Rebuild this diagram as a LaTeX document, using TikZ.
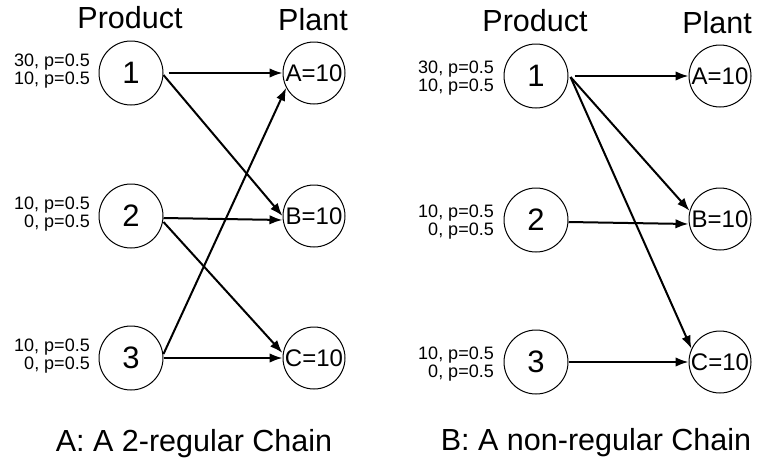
\documentclass[tikz,border=0pt]{standalone}
\usepackage{fontspec}
\setmainfont{Liberation Sans}
\usetikzlibrary{arrows.meta}

\tikzset{
  stage/.style={circle, draw=black, line width=1pt, minimum size=64pt, inner sep=0pt,
                font=\fontsize{31}{31}\selectfont},
  plant/.style={circle, draw=black, line width=1pt, minimum size=62pt, inner sep=0pt,
                font=\fontsize{24}{24}\selectfont},
  demand/.style={anchor=east, align=right, inner sep=0pt,
                 font=\fontsize{18}{15}\selectfont},
  heading/.style={anchor=base, inner sep=0pt, font=\fontsize{30.5}{30.5}\selectfont},
  flow/.style={line width=2pt, -{Latex[length=13pt,width=9.5pt]}}
}

\begin{document}
\begin{tikzpicture}[x=1pt, y=-1pt]
  \useasboundingbox (0,0) rectangle (762,466);

  % ---------- left chain ----------
  \node[heading] (lprod) at (130,28) {Product};
  \node[heading] (lplant) at (313,30) {Plant};

  \node[stage] (L1) at (131,73)  {1};
  \node[stage] (L2) at (131,216) {2};
  \node[stage] (L3) at (131,358) {3};

  \node[plant] (LA) at (314,73)  {A=10};
  \node[plant] (LB) at (314,216) {B=10};
  \node[plant] (LC) at (314,358) {C=10};

  \node[demand] (l1d) at (90,71)  {30, p=0.5\\10, p=0.5};
  \node[demand] (l2d) at (90,214) {10, p=0.5\\0, p=0.5};
  \node[demand] (l3d) at (90,356) {10, p=0.5\\0, p=0.5};

  \draw[flow] ([xshift=5pt]L1.east) -- (LA.west);
  \draw[flow] ([yshift=-2pt]L1.east) -- (LB.west);
  \draw[flow] ([yshift=-2pt]L2.east) -- ([yshift=-4pt]LB.west);
  \draw[flow] ([yshift=-6pt]L2.east) -- ([yshift=5pt]LC.west);
  \draw[flow] ([yshift=4pt]L3.east) -- (LA.208);
  \draw[flow] (L3.east) -- (LC.west);

  \node[heading] (lcap) at (194,451) {A: A 2-regular Chain};

  % ---------- right chain ----------
  \node[heading] (rprod) at (535,31) {Product};
  \node[heading] (rplant) at (717,33) {Plant};

  \node[stage] (R1) at (536,76)  {1};
  \node[stage] (R2) at (536,220) {2};
  \node[stage] (R3) at (536,362) {3};

  \node[plant] (RA) at (720,76)  {A=10};
  \node[plant] (RB) at (720,219) {B=10};
  \node[plant] (RC) at (720,362) {C=10};

  \node[demand] (r1d) at (494,78)  {30, p=0.5\\10, p=0.5};
  \node[demand] (r2d) at (494,222) {10, p=0.5\\0, p=0.5};
  \node[demand] (r3d) at (494,364) {10, p=0.5\\0, p=0.5};

  \draw[flow] ([xshift=6pt]R1.east) -- (RA.west);
  \draw[flow] ([xshift=2pt,yshift=-1pt]R1.east) -- (RB.165);
  \draw[flow] ([xshift=2pt,yshift=-1pt]R1.east) -- (RC.155);
  \draw[flow] ([yshift=-2pt]R2.east) -- ([yshift=-5pt]RB.west);
  \draw[flow] (R3.east) -- (RC.west);

  \node[heading] (rcap) at (596,450) {B: A non-regular Chain};
\end{tikzpicture}
\end{document}
